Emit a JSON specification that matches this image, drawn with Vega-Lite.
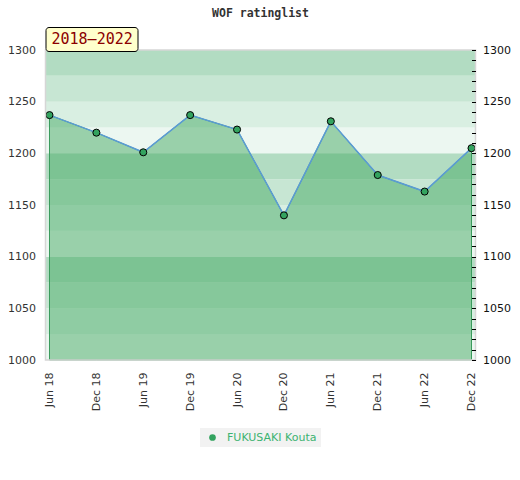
{
  "$schema": "https://vega.github.io/schema/vega-lite/v6.json",
  "autosize": {"type": "none"},
  "width": 430,
  "height": 310,
  "padding": {"left": 45.5, "top": 50, "right": 45, "bottom": 120},
  "title": {
    "text": "WOF ratinglist",
    "font": "DejaVu Sans Mono",
    "fontSize": 11.5,
    "fontWeight": "bold",
    "color": "#333333",
    "anchor": "middle",
    "offset": 7
  },
  "config": {
    "view": {"stroke": null},
    "axis": {
      "labelFont": "DejaVu Sans",
      "labelFontSize": 11,
      "labelColor": "#333333",
      "grid": false,
      "domain": false
    }
  },
  "datasets": {
    "ratings": [
      {"month": "Jun 18", "rating": 1237, "player": "FUKUSAKI Kouta", "period": "2018–2022"},
      {"month": "Dec 18", "rating": 1220, "player": "FUKUSAKI Kouta", "period": "2018–2022"},
      {"month": "Jun 19", "rating": 1201, "player": "FUKUSAKI Kouta", "period": "2018–2022"},
      {"month": "Dec 19", "rating": 1237, "player": "FUKUSAKI Kouta", "period": "2018–2022"},
      {"month": "Jun 20", "rating": 1223, "player": "FUKUSAKI Kouta", "period": "2018–2022"},
      {"month": "Dec 20", "rating": 1140, "player": "FUKUSAKI Kouta", "period": "2018–2022"},
      {"month": "Jun 21", "rating": 1231, "player": "FUKUSAKI Kouta", "period": "2018–2022"},
      {"month": "Dec 21", "rating": 1179, "player": "FUKUSAKI Kouta", "period": "2018–2022"},
      {"month": "Jun 22", "rating": 1163, "player": "FUKUSAKI Kouta", "period": "2018–2022"},
      {"month": "Dec 22", "rating": 1205, "player": "FUKUSAKI Kouta", "period": "2018–2022"}
    ],
    "bands": [
      {"lo": 1000, "hi": 1025, "tier": "a"},
      {"lo": 1025, "hi": 1050, "tier": "b"},
      {"lo": 1050, "hi": 1075, "tier": "c"},
      {"lo": 1075, "hi": 1100, "tier": "d"},
      {"lo": 1100, "hi": 1125, "tier": "a"},
      {"lo": 1125, "hi": 1150, "tier": "b"},
      {"lo": 1150, "hi": 1175, "tier": "c"},
      {"lo": 1175, "hi": 1200, "tier": "d"},
      {"lo": 1200, "hi": 1225, "tier": "a"},
      {"lo": 1225, "hi": 1250, "tier": "b"},
      {"lo": 1250, "hi": 1275, "tier": "c"},
      {"lo": 1275, "hi": 1300, "tier": "d"}
    ]
  },
  "resolve": {"axis": {"y": "independent"}},
  "layer": [
    {
      "data": {"name": "bands"},
      "mark": {"type": "rect"},
      "encoding": {
        "y": {
          "field": "lo",
          "type": "quantitative",
          "scale": {"domain": [1000, 1300], "nice": false, "zero": false},
          "axis": {
            "orient": "left",
            "values": [1000, 1050, 1100, 1150, 1200, 1250, 1300],
            "format": "d",
            "ticks": false,
            "labelPadding": 10,
            "title": null
          }
        },
        "y2": {"field": "hi"},
        "color": {
          "field": "tier",
          "type": "nominal",
          "scale": {"domain": ["a", "b", "c", "d"], "range": ["#ecf7f1", "#d9efe2", "#c7e6d3", "#b2dcc2"]},
          "legend": null
        }
      }
    },
    {
      "data": {"name": "ratings"},
      "mark": {"type": "area", "fillOpacity": 0.5, "stroke": "#3a9a5c", "strokeWidth": 1},
      "encoding": {
        "x": {
          "field": "month",
          "type": "ordinal",
          "sort": null,
          "scale": {"type": "point", "padding": 0.085},
          "axis": {"labelAngle": -90, "ticks": false, "labelPadding": 12, "title": null}
        },
        "y": {
          "field": "rating",
          "type": "quantitative",
          "axis": {
            "orient": "right",
            "values": [1000, 1010, 1020, 1030, 1040, 1050, 1060, 1070, 1080, 1090, 1100, 1110, 1120, 1130, 1140, 1150, 1160, 1170, 1180, 1190, 1200, 1210, 1220, 1230, 1240, 1250, 1260, 1270, 1280, 1290, 1300],
            "format": "d",
            "labelExpr": "datum.value % 50 == 0 ? datum.label : ''",
            "offset": -4,
            "tickSize": 4,
            "tickColor": "#000000",
            "labelPadding": 7,
            "labelColor": "#111111",
            "zindex": 1,
            "title": null
          }
        },
        "y2": {"datum": 1000},
        "fill": {
          "field": "period",
          "type": "nominal",
          "scale": {"range": ["#46a963"]},
          "legend": {
            "orient": "none",
            "legendX": 0,
            "legendY": -23,
            "title": null,
            "fillColor": "#ffffcc",
            "strokeColor": "#000000",
            "cornerRadius": 3,
            "padding": 4,
            "symbolSize": 0,
            "symbolOpacity": 0,
            "symbolStrokeWidth": 0,
            "labelOffset": -13,
            "labelFont": "DejaVu Sans Mono",
            "labelFontSize": 15,
            "labelColor": "#8b0000"
          }
        }
      }
    },
    {
      "data": {"name": "ratings"},
      "mark": {"type": "line", "color": "#5b9bd5", "strokeWidth": 1.5},
      "encoding": {
        "x": {"field": "month", "type": "ordinal", "sort": null},
        "y": {"field": "rating", "type": "quantitative", "axis": null}
      }
    },
    {
      "data": {"name": "ratings"},
      "mark": {"type": "point", "filled": true, "fill": "#33a35f", "stroke": "#000000", "strokeWidth": 1, "size": 50, "opacity": 1},
      "encoding": {
        "x": {"field": "month", "type": "ordinal", "sort": null},
        "y": {"field": "rating", "type": "quantitative", "axis": null},
        "shape": {
          "field": "player",
          "type": "nominal",
          "scale": {"range": ["circle"]},
          "legend": {
            "orient": "none",
            "legendX": 154.5,
            "legendY": 378,
            "title": null,
            "fillColor": "#f2f2f2",
            "padding": 4,
            "symbolSize": 45,
            "symbolFillColor": "#33a35f",
            "symbolStrokeColor": "#000000",
            "symbolStrokeWidth": 1,
            "symbolOffset": 3,
            "labelOffset": 9,
            "labelFont": "DejaVu Sans",
            "labelFontSize": 11,
            "labelColor": "#3cb371"
          }
        }
      }
    },
    {
      "data": {"values": [{}]},
      "mark": {"type": "rect", "fill": null, "stroke": "#d6d6d6", "strokeWidth": 1.5},
      "encoding": {}
    }
  ]
}
